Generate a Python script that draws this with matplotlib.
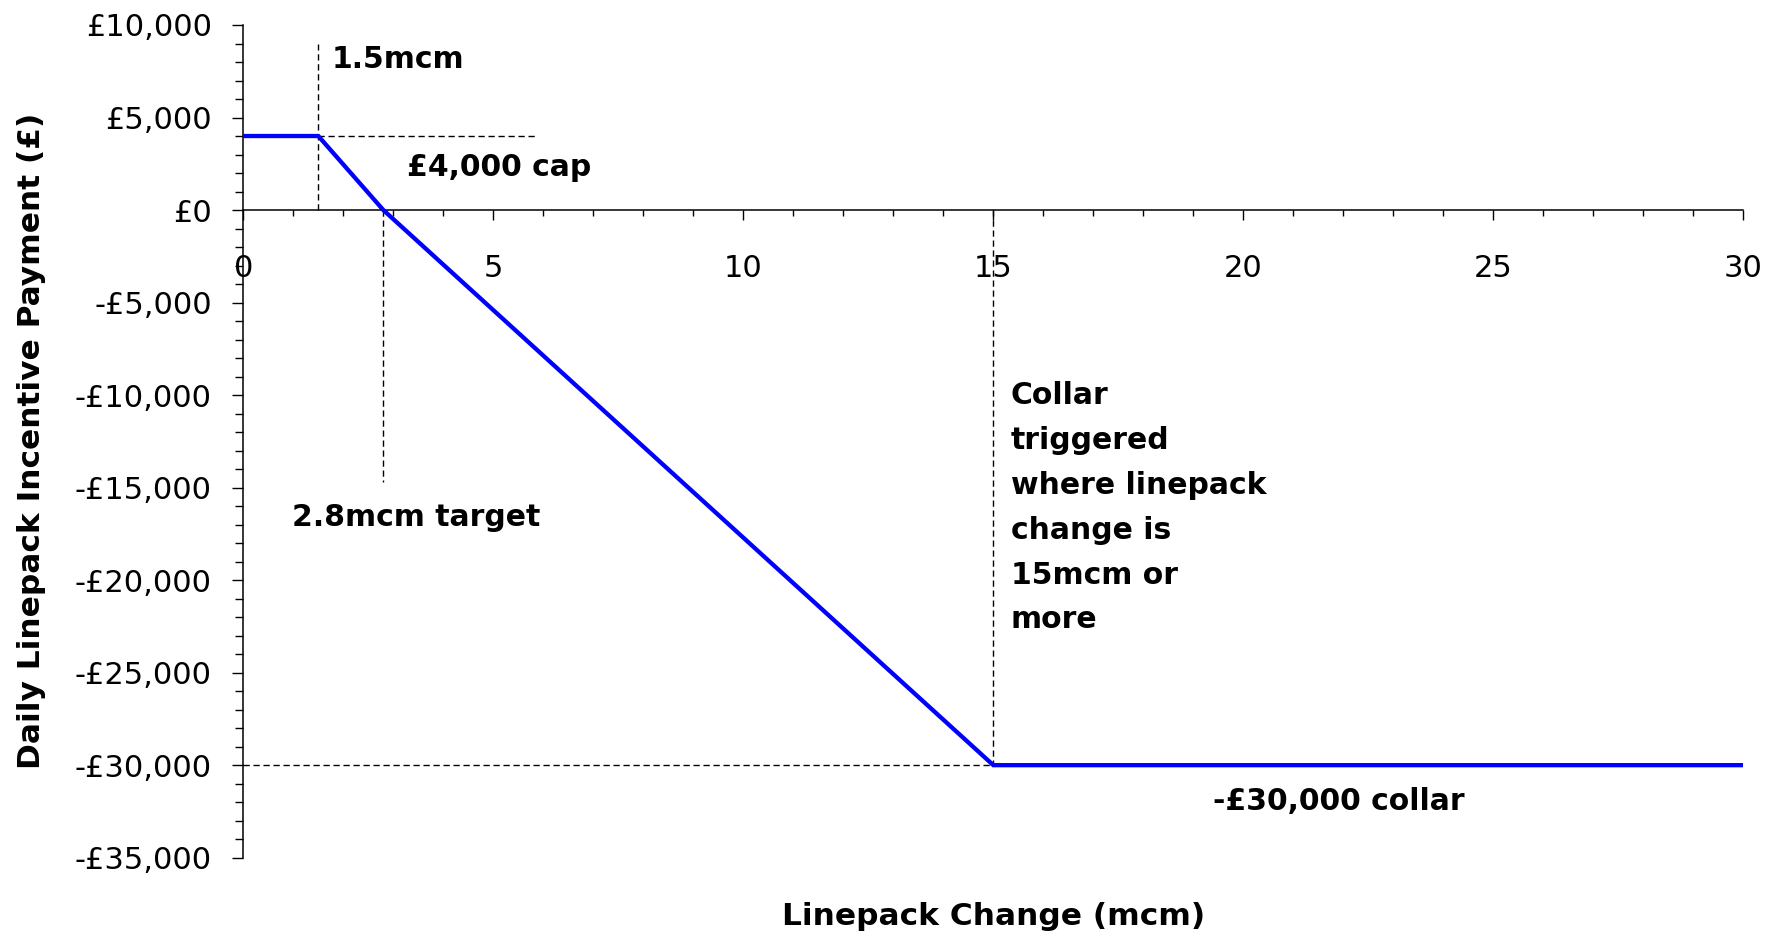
import matplotlib
matplotlib.use("Agg")
import matplotlib.pyplot as plt
from matplotlib.ticker import MultipleLocator, FixedLocator, FixedFormatter

# ---- data ----
linepack_x = [0, 1.5, 2.8, 15, 30]
payment_y = [4000, 4000, 0, -30000, -30000]

ytick_values = [10000, 5000, 0, -5000, -10000, -15000, -20000, -25000, -30000, -35000]
ytick_labels = ["£10,000", "£5,000", "£0", "-£5,000", "-£10,000", "-£15,000",
                "-£20,000", "-£25,000", "-£30,000", "-£35,000"]
xtick_values = [0, 5, 10, 15, 20, 25, 30]
xtick_labels = ["0", "5", "10", "15", "20", "25", "30"]

# reference (dashed) guide lines: (x0, x1, y0, y1)
guide_x0 = [1.5, 1.5, 2.8, 15, 0]
guide_x1 = [1.5, 5.85, 2.8, 15, 15]
guide_y0 = [0, 4000, 0, 0, -30000]
guide_y1 = [9000, 4000, -14700, -30000, -30000]

ann_texts = ["1.5mcm", "£4,000 cap", "2.8mcm target",
             "Collar\ntriggered\nwhere linepack\nchange is\n15mcm or\nmore",
             "-£30,000 collar"]
ann_x = [1.77, 3.27, 0.97, 15.35, 19.4]
# baseline of the (last) line of each annotation
ann_y = [7660, 1820, -17050, -22610, -32430]

# ---- figure ----
fig = plt.figure(figsize=(17.8, 9.39), dpi=100)
ax = fig.add_axes([0.1367, 0.08658, 0.8427, 0.8868])

ax.plot(linepack_x, payment_y, color="#0000FF", lw=3.1, solid_joinstyle="miter", zorder=3)

for x0, x1, y0, y1 in zip(guide_x0, guide_x1, guide_y0, guide_y1):
    ax.plot([x0, x1], [y0, y1], color="black", lw=1.0, linestyle=(0, (4.5, 2.7)), zorder=2)

for t, x, y in zip(ann_texts, ann_x, ann_y):
    ax.text(x, y, t, fontsize=21.5, fontweight="bold", ha="left", va="baseline",
            linespacing=1.69, color="black")

ax.set_xlim(0, 30)
ax.set_ylim(-35000, 10000)

ax.spines["top"].set_visible(False)
ax.spines["right"].set_visible(False)
ax.spines["bottom"].set_position(("data", 0))
for s in ("left", "bottom"):
    ax.spines[s].set_linewidth(1.1)
    ax.spines[s].set_color("black")

ax.yaxis.set_major_locator(FixedLocator(ytick_values))
ax.yaxis.set_major_formatter(FixedFormatter(ytick_labels))
ax.yaxis.set_minor_locator(MultipleLocator(1000))
ax.xaxis.set_major_locator(FixedLocator(xtick_values))
ax.xaxis.set_major_formatter(FixedFormatter(xtick_labels))
ax.xaxis.set_minor_locator(MultipleLocator(1))

ax.tick_params(axis="y", which="major", direction="out", length=7.9, width=1.0,
               pad=14.8, labelsize=22, colors="black")
ax.tick_params(axis="y", which="minor", direction="out", length=5.5, width=1.0)
ax.tick_params(axis="x", which="major", direction="out", length=7.5, width=1.0,
               pad=24.0, labelsize=22, colors="black")
ax.tick_params(axis="x", which="minor", direction="out", length=4.5, width=1.0)

ax.set_ylabel("Daily Linepack Incentive Payment (£)", fontsize=22.5, fontweight="bold")
ax.set_xlabel("Linepack Change (mcm)", fontsize=22.5, fontweight="bold")
ax.yaxis.set_label_coords(-0.1315, 0.5)
ax.xaxis.set_label_coords(0.5, -0.0532)

fig.savefig("out.png", dpi=100, facecolor="white")
